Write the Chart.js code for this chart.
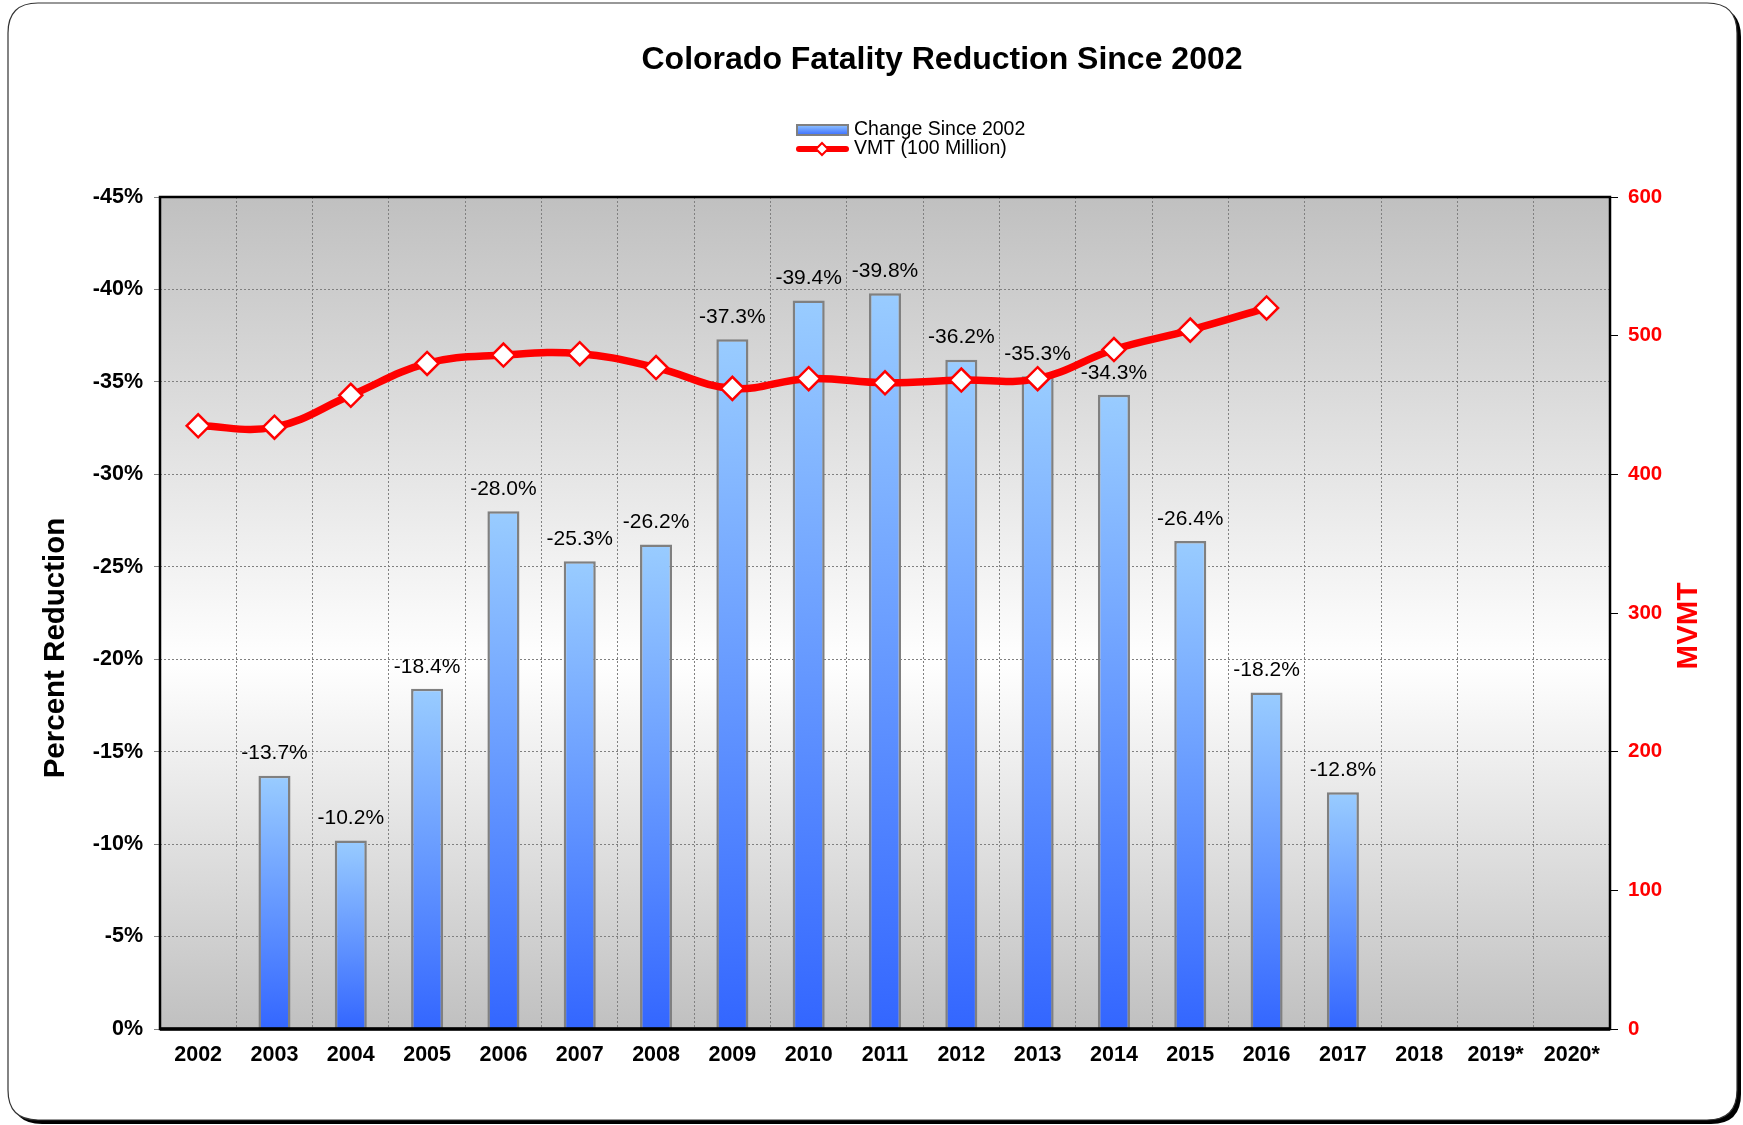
<!DOCTYPE html>
<html><head><meta charset="utf-8">
<script src="https://cdn.jsdelivr.net/npm/chart.js@4/dist/chart.umd.min.js"></script>
<style>html,body{margin:0;padding:0;background:#fff;}canvas{display:block}</style>
</head><body>
<canvas id="c" width="1743" height="1125"></canvas>
<script>
const years = ['2002','2003','2004','2005','2006','2007','2008','2009','2010','2011','2012','2013','2014','2015','2016','2017','2018','2019*','2020*'];
const changeSince2002 = [null,-13.7,-10.2,-18.4,-28.0,-25.3,-26.2,-37.3,-39.4,-39.8,-36.2,-35.3,-34.3,-26.4,-18.2,-12.8,null,null,null];
const vmt100M = [435,434,457,480,486,487,477,462,469,466,468,469,490,504,520,null,null,null,null];
const titleText = 'Colorado Fatality Reduction Since 2002';
const barLabel = 'Change Since 2002';
const lineLabel = 'VMT (100 Million)';
const leftTitle = 'Percent Reduction';
const rightTitle = 'MVMT';

const FONT = '"Liberation Sans", Arial, sans-serif';

function rr(ctx, x, y, w, h, r){
  ctx.beginPath();
  ctx.moveTo(x+r,y); ctx.lineTo(x+w-r,y); ctx.quadraticCurveTo(x+w,y,x+w,y+r);
  ctx.lineTo(x+w,y+h-r); ctx.quadraticCurveTo(x+w,y+h,x+w-r,y+h);
  ctx.lineTo(x+r,y+h); ctx.quadraticCurveTo(x,y+h,x,y+h-r);
  ctx.lineTo(x,y+r); ctx.quadraticCurveTo(x,y,x+r,y); ctx.closePath();
}

const decor = {
  id:'decor',
  beforeDraw(chart){
    const ctx = chart.ctx, a = chart.chartArea;
    ctx.save();
    ctx.fillStyle='#fff'; ctx.fillRect(0,0,chart.width,chart.height);
    rr(ctx, 12, 7, 1729, 1117, 30); ctx.fillStyle='#000'; ctx.fill();
    rr(ctx, 8, 3, 1729, 1117, 30); ctx.fillStyle='#fff'; ctx.fill();
    ctx.lineWidth=1.2; ctx.strokeStyle='#333'; ctx.stroke();
    const g = ctx.createLinearGradient(0,a.top,0,a.bottom);
    g.addColorStop(0,'#c0c0c0'); g.addColorStop(0.56,'#ffffff'); g.addColorStop(1,'#c0c0c0');
    ctx.fillStyle=g; ctx.fillRect(a.left,a.top,a.right-a.left,a.bottom-a.top);
    ctx.fillStyle='#000'; ctx.textAlign='center'; ctx.textBaseline='middle';
    ctx.font='bold 32px '+FONT; ctx.fillText(titleText, 942, 60);
    const lg = ctx.createLinearGradient(0,124,0,136);
    lg.addColorStop(0,'#99ccff'); lg.addColorStop(1,'#3366ff');
    ctx.fillStyle=lg; ctx.fillRect(797,125,51,10);
    ctx.lineWidth=2; ctx.strokeStyle='#808080'; ctx.strokeRect(797,125,51,10);
    ctx.strokeStyle='#ff0000'; ctx.lineWidth=6; ctx.lineCap='round';
    ctx.beginPath(); ctx.moveTo(799,149); ctx.lineTo(846,149); ctx.stroke();
    ctx.beginPath(); ctx.moveTo(822,143); ctx.lineTo(828,149); ctx.lineTo(822,155); ctx.lineTo(816,149); ctx.closePath();
    ctx.fillStyle='#fff'; ctx.fill(); ctx.lineWidth=2; ctx.stroke();
    ctx.fillStyle='#000'; ctx.textAlign='left'; ctx.font='19.5px '+FONT;
    ctx.fillText(barLabel, 854, 130); ctx.fillText(lineLabel, 854, 149);
    ctx.font='bold 29.5px '+FONT; ctx.textAlign='center';
    ctx.save(); ctx.translate(56,648); ctx.rotate(-Math.PI/2); ctx.fillText(leftTitle,0,0); ctx.restore();
    ctx.fillStyle='#ff0000';
    ctx.save(); ctx.translate(1689,626); ctx.rotate(-Math.PI/2); ctx.fillText(rightTitle,0,0); ctx.restore();
    ctx.restore();
  },
  afterDatasetsDraw(chart){
    const ctx = chart.ctx, a = chart.chartArea;
    ctx.save();
    ctx.strokeStyle='#000'; ctx.lineWidth=2.5;
    ctx.strokeRect(a.left,a.top,a.right-a.left,a.bottom-a.top);
    ctx.lineWidth=3.5; ctx.beginPath(); ctx.moveTo(a.left,a.bottom); ctx.lineTo(a.right,a.bottom); ctx.stroke();
    const meta = chart.getDatasetMeta(0);
    ctx.fillStyle='#000'; ctx.font='21px '+FONT; ctx.textAlign='center'; ctx.textBaseline='middle';
    meta.data.forEach((el,i)=>{
      const v = changeSince2002[i];
      if (v==null) return;
      ctx.fillText(v.toFixed(1)+'%', el.x, el.y-22);
    });
    ctx.restore();
  }
};

new Chart(document.getElementById('c'), {
  data: {
    labels: years,
    datasets: [
      {
        type:'bar', label: barLabel, data: changeSince2002, yAxisID:'y', order:2,
        backgroundColor: (c)=>{
          const chart=c.chart, a=chart.chartArea;
          if(!a || c.type!=='data' || c.raw==null) return '#6699ff';
          const t=chart.scales.y.getPixelForValue(c.raw), b=chart.scales.y.getPixelForValue(0);
          const g=chart.ctx.createLinearGradient(0,t,0,b);
          g.addColorStop(0,'#99ccff'); g.addColorStop(1,'#3366ff'); return g;
        },
        borderColor:'#808080', borderWidth:2.5,
        categoryPercentage:1, barPercentage:0.42
      },
      {
        type:'line', label: lineLabel, data: vmt100M, yAxisID:'y1', order:1,
        borderColor:'#ff0000', borderWidth:7.5, tension:0.4,
        pointStyle:'rectRot', pointRadius:11.5, pointBackgroundColor:'#ffffff',
        pointBorderColor:'#ff0000', pointBorderWidth:2.5
      }
    ]
  },
  options: {
    responsive:false, animation:false, devicePixelRatio:1,
    layout:{padding:{top:197,left:0,right:0,bottom:0}},
    plugins:{legend:{display:false}, tooltip:{enabled:false}},
    scales:{
      x:{
        afterFit(s){ s.height=96; },
        grid:{offset:true, color:'#808080', lineWidth:1, drawTicks:false},
        border:{display:false, dash:[2,2]},
        ticks:{color:'#000', font:{family:FONT, size:21.5, weight:'bold'}, padding:13, maxRotation:0, autoSkip:false}
      },
      y:{
        position:'left', min:-45, max:0, reverse:true,
        afterFit(s){ s.width=160; },
        grid:{color:'#808080', lineWidth:1, tickLength:6, tickColor:'#808080', tickBorderDash:[]},
        border:{display:false, dash:[2,2]},
        ticks:{stepSize:5, color:'#000', padding:11, font:{family:FONT, size:21.5, weight:'bold'}, callback:v=>v+'%'}
      },
      y1:{
        position:'right', min:0, max:600,
        afterFit(s){ s.width=133; },
        grid:{drawOnChartArea:false, tickLength:8, tickColor:'#000', tickBorderDash:[]},
        border:{display:false},
        ticks:{stepSize:100, color:'#ff0000', padding:10, font:{family:FONT, size:20.5, weight:'bold'}}
      }
    }
  },
  plugins:[decor]
});
</script>
</body></html>
